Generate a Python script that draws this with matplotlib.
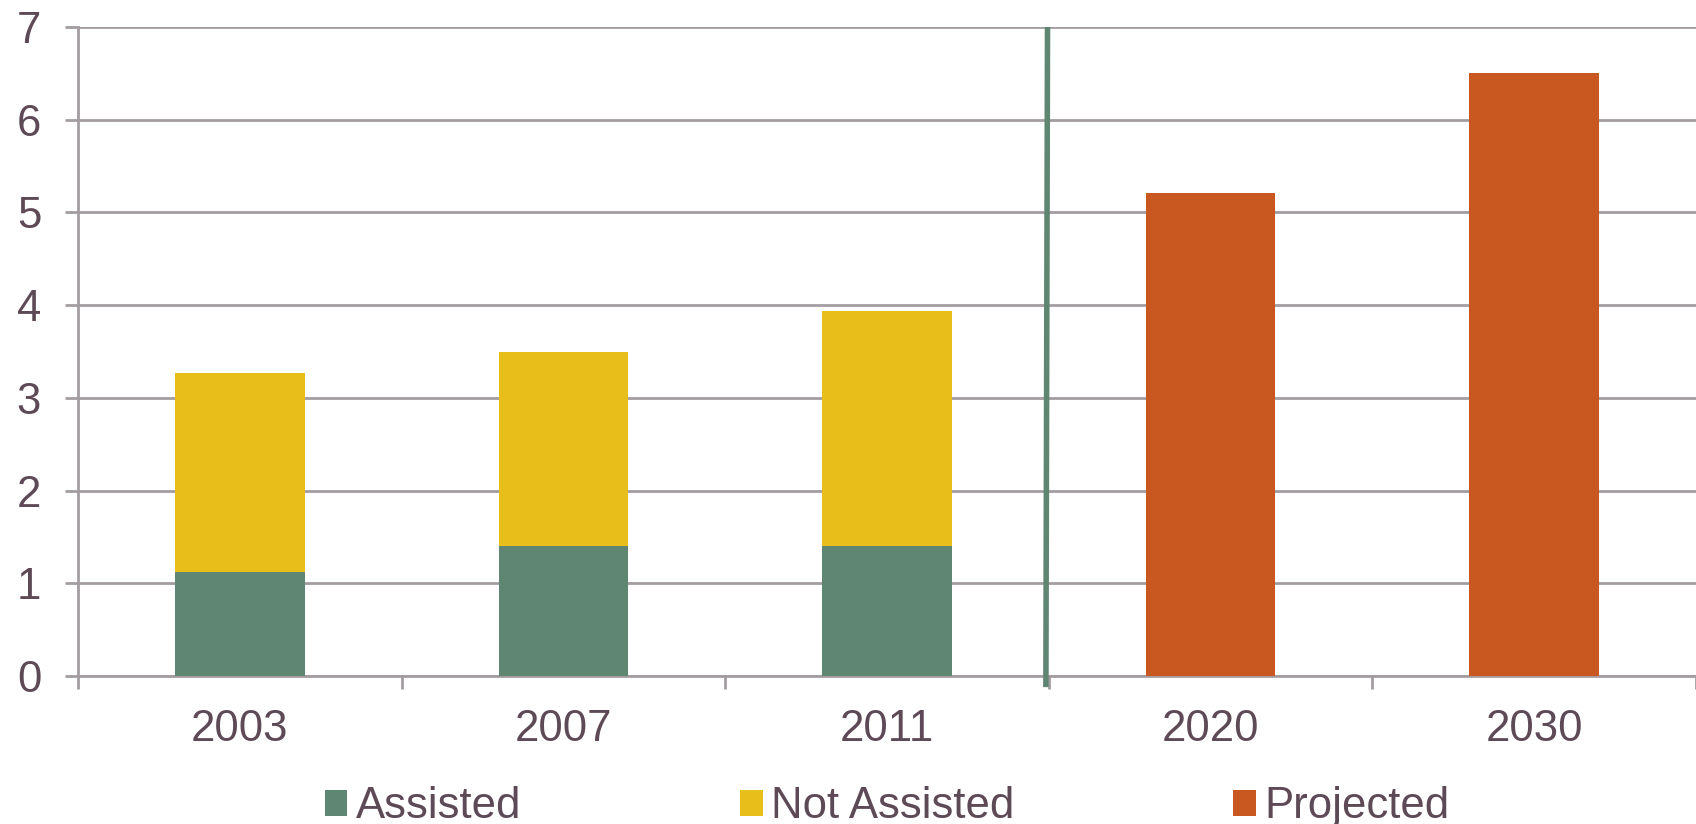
import matplotlib
matplotlib.use("Agg")
import matplotlib.pyplot as plt
import numpy as np

categories = ["2003", "2007", "2011", "2020", "2030"]
assisted = [1.12, 1.40, 1.40, 0, 0]
not_assisted = [2.15, 2.09, 2.54, 0, 0]
projected = [0, 0, 0, 5.21, 6.50]

GREEN = "#5f8573"
YELLOW = "#e8be1a"
ORANGE = "#c95820"
TEXT = "#5e4a56"
GRID = "#a39da1"

plt.rcParams['font.family'] = ['Liberation Sans', 'DejaVu Sans']

fig = plt.figure(figsize=(16.96, 8.24), dpi=100)
ax = fig.add_axes([78/1696, 1-676/824, 1-78/1696, (676-27)/824])

x = np.arange(len(categories))
w = 0.40
hist = slice(0, 3)
proj = slice(3, 5)
ax.bar(x[hist], assisted[hist], w, color=GREEN, label="Assisted", zorder=3)
ax.bar(x[hist], not_assisted[hist], w, bottom=assisted[hist], color=YELLOW, label="Not Assisted", zorder=3)
ax.bar(x[proj], projected[proj], w, color=ORANGE, label="Projected", zorder=3)

# divider line between historical and projected
ax.plot([2.496, 2.491], [7, -0.12], color=GREEN, lw=4, clip_on=False, zorder=4, solid_capstyle='butt')

ax.set_xlim(-0.5, 4.5)
ax.set_ylim(0, 7)
ax.set_yticks(range(0, 8))
ax.set_xticks(x)
ax.set_xticklabels(categories)
ax.set_xticks(np.arange(-0.5, 4.6, 1.0), minor=True)

ax.grid(axis='y', color=GRID, lw=2, zorder=0)
ax.set_axisbelow(True)
for s in ['top', 'right']:
    ax.spines[s].set_visible(False)
for s in ['left', 'bottom']:
    ax.spines[s].set_color(GRID)
    ax.spines[s].set_linewidth(2)

FS = 31.5
ax.tick_params(axis='y', which='major', length=9.5, width=2, color=GRID,
               labelsize=FS, labelcolor=TEXT, pad=17)
ax.tick_params(axis='x', which='major', length=0, labelsize=FS, labelcolor=TEXT, pad=24)
ax.tick_params(axis='x', which='minor', length=9, width=2, color=GRID)

leg = ax.legend(loc='upper center', bbox_to_anchor=(0.5, -0.143), ncol=3, frameon=False,
                fontsize=FS, labelcolor=TEXT, handlelength=0.52, handleheight=0.52,
                handletextpad=0.19, columnspacing=5.0, borderaxespad=0)

fig.savefig("out.png", dpi=100)
